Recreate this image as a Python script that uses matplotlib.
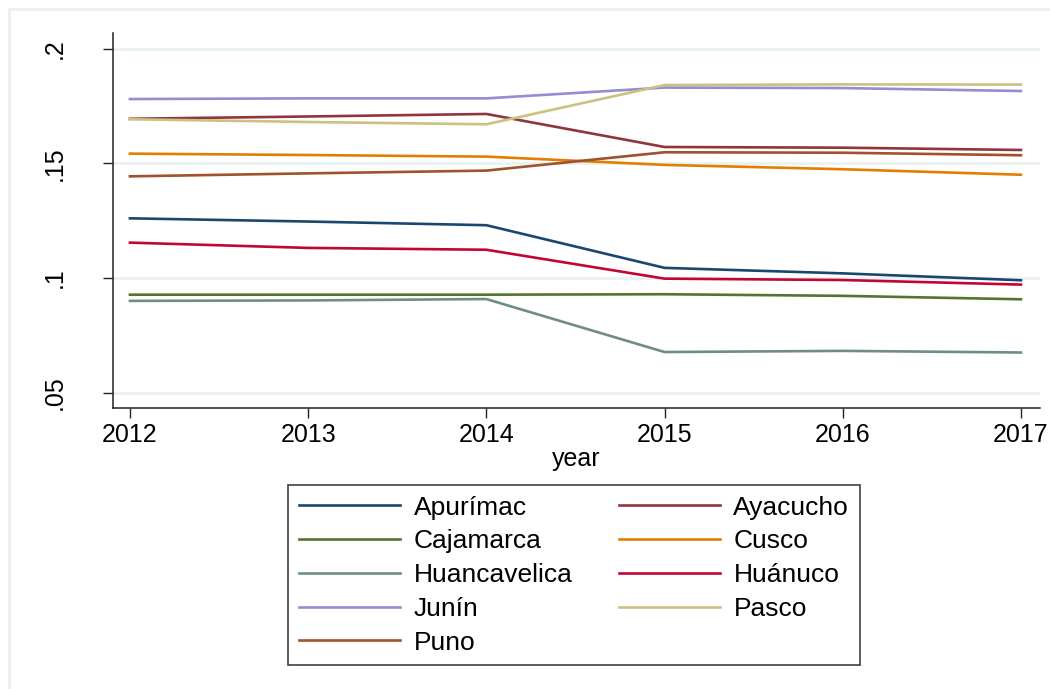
import numpy as np
import matplotlib
matplotlib.use('Agg')
import matplotlib.pyplot as plt
from matplotlib.patches import Rectangle

plt.rcParams['font.family'] = ['Liberation Sans', 'DejaVu Sans']

years = [2012, 2013, 2014, 2015, 2016, 2017]

apurimac = [0.1260, 0.1246, 0.1230, 0.1044, 0.1020, 0.0990]
ayacucho = [0.1694, 0.1704, 0.1715, 0.1571, 0.1568, 0.1558]
cajamarca = [0.0927, 0.0927, 0.0927, 0.0929, 0.0922, 0.0907]
cusco = [0.1542, 0.1536, 0.1529, 0.1493, 0.1474, 0.1450]
huancavelica = [0.0900, 0.0902, 0.0908, 0.0677, 0.0682, 0.0675]
huanuco = [0.1154, 0.1131, 0.1123, 0.0997, 0.0991, 0.0971]
junin = [0.1780, 0.1783, 0.1783, 0.1830, 0.1828, 0.1815]
pasco = [0.1692, 0.1680, 0.1670, 0.1841, 0.1844, 0.1843]
puno = [0.1443, 0.1456, 0.1468, 0.1548, 0.1546, 0.1535]

regions = ['Apurímac', 'Ayacucho', 'Cajamarca', 'Cusco', 'Huancavelica',
           'Huánuco', 'Junín', 'Pasco', 'Puno']
series = [apurimac, ayacucho, cajamarca, cusco, huancavelica,
          huanuco, junin, pasco, puno]
# stata s2color palette
colors = ['#1a476f', '#90353b', '#55752f', '#e37e00', '#6e8e84',
          '#c10534', '#938dd2', '#cac27e', '#a0522d']

yticks = [0.05, 0.1, 0.15, 0.2]
ytick_labels = ['.05', '.1', '.15', '.2']

fig = plt.figure(figsize=(10.5, 6.89), dpi=100)
fig.patches.append(Rectangle((9 / 1050, -0.1), 1.2, 1 - 9 / 689 + 0.1,
                             transform=fig.transFigure, fill=False,
                             edgecolor='#e8f0f2', linewidth=2))

ax = fig.add_axes([113 / 1050, 1 - 408 / 689, (1040 - 113) / 1050, (408 - 33) / 689])

for yt in yticks:
    ax.axhline(yt, color='#eaf2f3', linewidth=2.2, zorder=0)

lines = []
for name, vals, c in zip(regions, series, colors):
    ln, = ax.plot(years, vals, color=c, linewidth=1.9, label=name)
    lines.append(ln)

ax.set_xlim(2011.905, 2017.107)
ax.set_ylim(0.0433, 0.2068)
ax.set_xticks(years)
ax.set_yticks(yticks)
ax.set_yticklabels(ytick_labels, rotation=90, va='center')

for side in ['top', 'right']:
    ax.spines[side].set_visible(False)
for side in ['left', 'bottom']:
    ax.spines[side].set_color('#222222')
    ax.spines[side].set_linewidth(1.1)

ax.tick_params(axis='both', direction='out', length=7.2, width=1.0,
               color='#222222', labelsize=18)
ax.tick_params(axis='x', pad=3.5)
ax.tick_params(axis='y', pad=26)
ax.set_xlabel('year', fontsize=18, labelpad=0)

# row-major order in a 2-column legend
order = [0, 2, 4, 6, 8, 1, 3, 5, 7]
leg = fig.legend([lines[i] for i in order], [regions[i] for i in order],
                 loc='upper center', bbox_to_anchor=(574 / 1050, 1 - 485 / 689),
                 borderaxespad=0,
                 ncol=2, fontsize=19, frameon=True, fancybox=False,
                 edgecolor='#111111', handlelength=3.85, handletextpad=0.5,
                 columnspacing=1.75, labelspacing=0.37, borderpad=0.4)
leg.get_frame().set_linewidth(1.2)

plt.savefig('out.png', dpi=100, facecolor='white')
